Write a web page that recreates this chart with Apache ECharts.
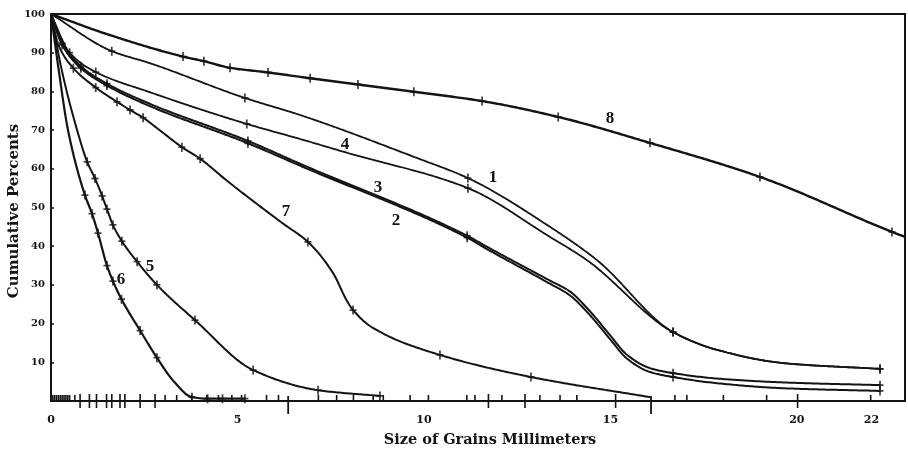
<!DOCTYPE html>
<html>
<head>
<meta charset="utf-8">
<script src="https://cdn.jsdelivr.net/npm/echarts@6/dist/echarts.min.js"></script>
<style>
  html, body { margin: 0; padding: 0; background: #fff; }
  #chart { width: 908px; height: 450px; }
</style>
</head>
<body>
<div id="chart"></div>
<script>
// Grain-size distribution curves: cumulative percent passing vs. grain size (mm).
// Each point is [size mm, cumulative %, sampled flag]; sampled points carry a "+" mark.
const xTickLabels = [0, 5, 10, 15, 20, 22];
const yTickLabels = [10, 20, 30, 40, 50, 60, 70, 80, 90, 100];

const curve1 = [[0,100,0],[1.63,90.4,1],[2.65,87.3,0],[5.20,78.3,1],[6.68,73.9,0],[9.81,62.8,0],[11.18,57.6,1],[13.38,45.0,0],[14.64,36.4,0],[16.68,17.8,1],[17.86,13.2,0],[19.63,9.8,0],[22.23,8.3,1]];
const curve2 = [[0,100,0],[0.3,92,1],[0.8,86,1],[1.5,81.5,1],[2.65,76.2,0],[5.28,66.6,1],[6.68,60.8,0],[11.16,42.2,1],[11.7,39.2,0],[13.38,30.3,0],[13.9,27.4,0],[14.45,22.2,0],[14.99,16.0,0],[15.45,10.9,0],[16.06,7.5,0],[16.68,6.2,1],[17.86,4.6,0],[19.63,3.3,0],[22.23,2.6,1]];
const curve3 = [[0,100,0],[0.3,92.5,1],[0.8,86.5,1],[1.5,82,1],[2.65,76.8,0],[5.28,67.2,1],[6.68,61.3,0],[11.16,42.7,1],[11.7,39.8,0],[13.38,31.1,0],[13.9,28.4,0],[14.45,23.2,0],[14.99,17.0,0],[15.45,11.9,0],[16.06,8.5,0],[16.68,7.2,1],[17.86,5.8,0],[19.63,4.8,0],[22.23,4.1,1]];
const curve4 = [[0,100,0],[0.5,90,1],[1.2,85,1],[2.65,79.8,0],[5.25,71.6,1],[6.68,67.7,0],[7.88,64.3,0],[11.18,55.0,1],[13.38,42.4,0],[14.37,36.4,0],[16.68,17.8,1],[17.86,13.2,0],[19.63,9.8,0],[22.23,8.3,1]];
const curve5 = [[0,100,0],[0.3,85,0],[0.70,70,0],[0.97,61.8,1],[1.18,57.5,1],[1.37,53.0,1],[1.50,49.6,1],[1.66,45.5,1],[1.90,41.3,1],[2.31,36.0,1],[2.84,30.0,1],[3.86,20.9,1],[5.42,8.0,1],[7.16,2.8,1],[8.82,1.3,1]];
const curve6 = [[0,100,0],[0.2,86,0],[0.456,70,0],[0.91,53.2,1],[1.10,48.4,1],[1.26,43.4,1],[1.50,35.0,1],[1.66,31.0,1],[1.89,26.3,1],[2.39,18.2,1],[2.84,11.2,1],[3.3,5.0,0],[3.78,1.0,1],[4.2,0.6,1],[4.6,0.6,1],[5.2,0.6,1]];
const curve7 = [[0,100,0],[0.2,92,0],[0.6,86,1],[1.2,81,1],[1.77,77.3,1],[2.12,75.2,1],[2.47,73.2,1],[2.87,70.3,0],[3.51,65.6,1],[4.0,62.6,1],[4.72,56.9,0],[6.2,46,0],[6.89,41.1,1],[7.56,33.1,0],[7.94,25.8,0],[8.10,23.5,1],[8.63,18.9,0],[10.43,11.9,1],[12.87,6.2,1],[16.06,1.0,0]];
const curve8 = [[0,100,0],[1.5,94.8,0],[3.54,89.0,1],[4.10,87.8,1],[4.80,86.1,1],[5.82,84.9,1],[6.95,83.4,1],[8.23,81.8,1],[9.73,79.9,1],[11.56,77.5,1],[13.60,73.4,1],[16.06,66.7,1],[19.01,57.9,1],[22.55,43.7,1],[22.9,42.4,0]];

// Sieve-size rug along the size axis
const rugShort = [0.05,0.1,0.15,0.2,0.25,0.3,0.35,0.4,0.45,0.5,0.64,3.06,3.37,3.77,4.18,4.49,4.85,5.11,5.78,6.10,7.17,7.66,8.11,8.64,8.91,9.63,10.12,11.15,11.37,12.09,13.11,13.65,14.10,16.73,17.05,18.03,19.19,21.98];
const rugCross = [0.78,1.03,1.22,1.49,1.63,1.85,1.98,2.39,2.79,11.73,12.71,15.14,20.02];
const rugLong = [6.36,16.09];

const curveNames = ['1','2','3','4','5','6','7','8'];
const curves = [curve1, curve2, curve3, curve4, curve5, curve6, curve7, curve8];
const curveWidths = [1.8, 2.0, 2.0, 1.8, 2.0, 2.2, 2.0, 2.4];

const plusMark = 'path://M-1,-5H1V-1H4V1H1V5H-1V1H-4V-1H-1Z';
const ink = '#141414';
const serif = 'DejaVu Serif';

// Shape-preserving cubic (PCHIP) through pixel points, sampled as a polyline.
function pchipPolyline(P) {
  const n = P.length;
  if (n < 3) return P;
  const h = [], d = [], m = new Array(n);
  for (let i = 0; i < n - 1; i++) {
    h.push(P[i + 1][0] - P[i][0]);
    d.push((P[i + 1][1] - P[i][1]) / h[i]);
  }
  m[0] = d[0];
  m[n - 1] = d[n - 2];
  for (let i = 1; i < n - 1; i++) {
    if (d[i - 1] * d[i] <= 0) { m[i] = 0; continue; }
    const w1 = 2 * h[i] + h[i - 1], w2 = h[i] + 2 * h[i - 1];
    m[i] = (w1 + w2) / (w1 / d[i - 1] + w2 / d[i]);
  }
  const out = [P[0]];
  for (let i = 0; i < n - 1; i++) {
    const steps = Math.max(4, Math.ceil(Math.hypot(h[i], P[i + 1][1] - P[i][1]) / 2));
    for (let s = 1; s <= steps; s++) {
      const t = s / steps, t2 = t * t, t3 = t2 * t;
      const y = (2 * t3 - 3 * t2 + 1) * P[i][1] + (t3 - 2 * t2 + t) * h[i] * m[i]
              + (-2 * t3 + 3 * t2) * P[i + 1][1] + (t3 - t2) * h[i] * m[i + 1];
      out.push([P[i][0] + t * h[i], y]);
    }
  }
  return out;
}

const chart = echarts.init(document.getElementById('chart'));

const curveSeries = curves.map((pts, i) => ({
  name: curveNames[i],
  type: 'custom',
  clip: true,
  data: pts.map(p => [p[0], p[1]]),
  renderItem: (params, api) => {
    if (params.dataIndex !== 0) return null;
    const P = pts.map(p => api.coord([p[0], p[1]]));
    return {
      type: 'polyline',
      shape: { points: pchipPolyline(P) },
      style: { stroke: ink, lineWidth: curveWidths[i], fill: null, lineJoin: 'round', lineCap: 'round' }
    };
  },
  z: 3
}));

const markSeries = curves.map((pts, i) => ({
  name: curveNames[i] + ' samples',
  type: 'scatter',
  symbol: plusMark,
  symbolSize: [7, 9],
  itemStyle: { color: ink },
  emphasis: { disabled: true },
  data: pts.filter(p => p[2]).map(p => [p[0], p[1]]),
  z: 4
}));

function rugSeries(values, up, down, width) {
  return {
    type: 'custom',
    data: values.map(v => [v, 0]),
    renderItem: (params, api) => {
      const p = api.coord([api.value(0), 0]);
      return {
        type: 'line',
        shape: { x1: p[0], y1: p[1] - up, x2: p[0], y2: p[1] + down },
        style: { stroke: ink, lineWidth: width }
      };
    },
    z: 2
  };
}

const curveLabelPos = [
  ['8', 610, 119], ['1', 493, 178], ['4', 345, 145], ['3', 378, 188],
  ['2', 396, 221], ['7', 286, 212], ['5', 150, 267], ['6', 121, 280]
];

chart.setOption({
  animation: false,
  backgroundColor: '#ffffff',
  grid: { left: 51, top: 14, right: 3, bottom: 49, show: true, borderColor: ink, borderWidth: 2 },
  xAxis: {
    type: 'value', min: 0, max: 22.9,
    axisLine: { lineStyle: { color: ink, width: 2 } },
    axisTick: { show: false },
    splitLine: { show: false },
    axisLabel: {
      customValues: xTickLabels, margin: 14,
      color: ink, fontFamily: serif, fontWeight: 'bold', fontSize: 11
    }
  },
  yAxis: {
    type: 'value', min: 0, max: 100, interval: 10,
    axisLine: { show: true, lineStyle: { color: ink, width: 2 } },
    axisTick: { show: true, inside: true, length: 3, lineStyle: { color: ink, width: 1.5 } },
    splitLine: { show: false },
    axisLabel: {
      customValues: yTickLabels, margin: 6,
      color: ink, fontFamily: serif, fontWeight: 'bold', fontSize: 10
    }
  },
  series: [
    ...curveSeries,
    ...markSeries,
    rugSeries(rugShort, 6, 0, 1.6),
    rugSeries(rugCross, 7, 7, 1.6),
    rugSeries(rugLong, 5, 13, 1.8)
  ],
  graphic: [
    ...curveLabelPos.map(([t, x, y]) => ({
      type: 'text', x: x, y: y, z: 10,
      style: { text: t, fill: ink, font: 'bold 17px "Liberation Serif"', align: 'center', verticalAlign: 'middle' }
    })),
    {
      type: 'text', x: 490, y: 440, z: 10,
      style: { text: 'Size of Grains Millimeters', fill: ink, font: 'bold 14.5px "DejaVu Serif"', align: 'center', verticalAlign: 'middle' }
    },
    {
      type: 'text', x: 14, y: 211, rotation: Math.PI / 2, z: 10,
      style: { text: 'Cumulative Percents', fill: ink, font: 'bold 15px "DejaVu Serif"', align: 'center', verticalAlign: 'middle' }
    }
  ]
});
</script>
</body>
</html>
